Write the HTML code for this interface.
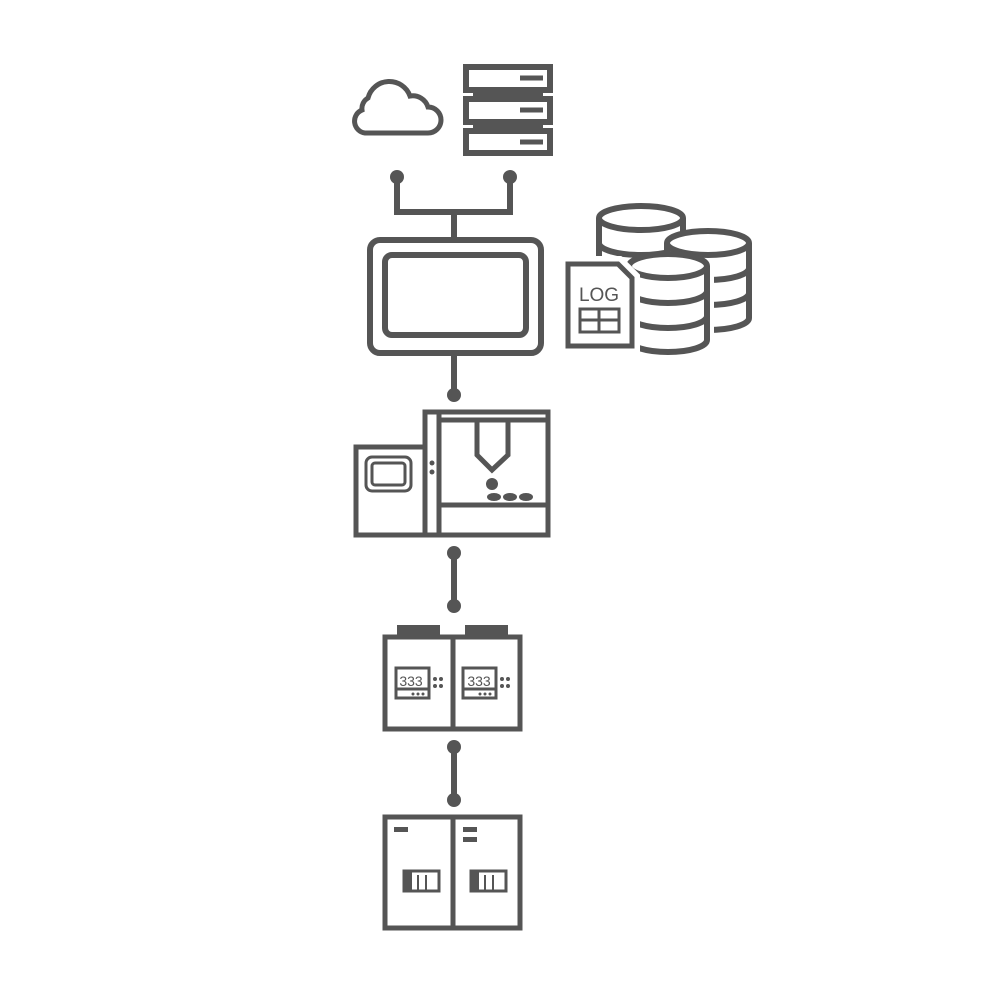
<!DOCTYPE html>
<html><head><style>html,body{margin:0;padding:0;background:#fff}svg{display:block}</style></head>
<body>
<svg width="1000" height="1000" viewBox="0 0 1000 1000" xmlns="http://www.w3.org/2000/svg" fill="none" stroke="#555" stroke-width="6">
<!-- cloud -->
<path d="M365,133 H428 A13,13 0 0 0 428,107 A16,16 0 0 0 410,96 A22,22 0 0 0 368,98 A12,12 0 0 0 362,110 A12,12 0 0 0 365,133 Z" stroke-width="5"/>
<!-- server -->
<rect x="466" y="67" width="84" height="23" stroke-width="6"/>
<rect x="466" y="99" width="84" height="23"/>
<rect x="466" y="131" width="84" height="22"/>
<path d="M473,93 H543 M473,125 H543" stroke-width="6"/>
<path d="M520,78 H543 M520,110 H543 M520,142 H543" stroke-width="5"/>
<!-- connectors top -->
<circle cx="397" cy="177" r="7" fill="#555" stroke="none"/>
<circle cx="510" cy="177" r="7" fill="#555" stroke="none"/>
<path d="M397,177 V212 H510 V177 M454,212 V240"/>
<!-- monitor -->
<rect x="370" y="240" width="171" height="113" rx="10"/>
<rect x="385" y="255" width="141" height="80" rx="7"/>
<path d="M454,353 V395"/>
<circle cx="454" cy="395" r="7" fill="#555" stroke="none"/>
<!-- databases -->
<g fill="#fff" stroke-width="6">
<path d="M599,218 V295 A42,12 0 0 0 683,295 V218"/>
<ellipse cx="641" cy="218" rx="42" ry="12"/>
<path d="M599,243 A42,12 0 0 0 683,243 M599,268 A42,12 0 0 0 683,268" fill="none"/>
<path d="M667,243 V318 A41,12 0 0 0 749,318 V243"/>
<ellipse cx="708" cy="243" rx="41" ry="12"/>
<path d="M667,268 A41,12 0 0 0 749,268 M667,293 A41,12 0 0 0 749,293" fill="none"/>
<path d="M629,266 V340 A39,12 0 0 0 707,340 V266" stroke="#fff" stroke-width="14"/>
<path d="M629,266 V340 A39,12 0 0 0 707,340 V266"/>
<ellipse cx="668" cy="266" rx="39" ry="12"/>
<path d="M629,291 A39,12 0 0 0 707,291 M629,316 A39,12 0 0 0 707,316" fill="none"/>
<path d="M568,264 H618 L632,278 V346 H568 Z" stroke="#fff" stroke-width="16"/>
<path d="M568,264 H618 L632,278 V346 H568 Z" stroke-width="5"/>
</g>
<text x="599" y="301" font-family="Liberation Sans, sans-serif" font-size="19" fill="#555" stroke="none" text-anchor="middle">LOG</text>
<rect x="580" y="309" width="39" height="23" stroke-width="3"/>
<path d="M599,309 V332 M580,320 H619" stroke-width="3"/>
<!-- machine -->
<rect x="425" y="412" width="123" height="123" stroke-width="5"/>
<rect x="356" y="447" width="69" height="88" stroke-width="5"/>
<path d="M439,412 V535 M439,420 H548 M439,505 H548" stroke-width="5"/>
<rect x="366" y="457" width="45" height="34" rx="6" stroke-width="3"/>
<rect x="372" y="463" width="33" height="22" rx="3" stroke-width="3"/>
<circle cx="432" cy="463" r="2.5" fill="#555" stroke="none"/>
<circle cx="432" cy="472" r="2.5" fill="#555" stroke="none"/>
<path d="M477,422 V455 L492,470 L508,455 V422" stroke-width="5"/>
<circle cx="492" cy="484" r="6" fill="#555" stroke="none"/>
<ellipse cx="494" cy="497" rx="7" ry="4" fill="#555" stroke="none"/>
<ellipse cx="510" cy="497" rx="7" ry="4" fill="#555" stroke="none"/>
<ellipse cx="526" cy="497" rx="7" ry="4" fill="#555" stroke="none"/>
<circle cx="454" cy="553" r="7" fill="#555" stroke="none"/>
<circle cx="454" cy="606" r="7" fill="#555" stroke="none"/>
<path d="M454,553 V606"/>
<!-- controller cabinets -->
<rect x="397" y="625" width="43" height="10" fill="#555" stroke="none"/>
<rect x="465" y="625" width="43" height="10" fill="#555" stroke="none"/>
<rect x="385" y="637" width="135" height="92" stroke-width="5"/>
<path d="M453,637 V729" stroke-width="5"/>
<g stroke-width="3">
<rect x="396" y="668" width="33" height="30"/>
<rect x="463" y="668" width="33" height="30"/>
<path d="M396,689 H429 M463,689 H496"/>
</g>
<text x="411" y="686" font-family="Liberation Sans, sans-serif" font-size="14" fill="#555" stroke="none" text-anchor="middle">333</text>
<text x="479" y="686" font-family="Liberation Sans, sans-serif" font-size="14" fill="#555" stroke="none" text-anchor="middle">333</text>
<g fill="#555" stroke="none">
<circle cx="435" cy="679" r="2"/><circle cx="441" cy="679" r="2"/><circle cx="435" cy="686" r="2"/><circle cx="441" cy="686" r="2"/>
<circle cx="502" cy="679" r="2"/><circle cx="508" cy="679" r="2"/><circle cx="502" cy="686" r="2"/><circle cx="508" cy="686" r="2"/>
<circle cx="413" cy="694" r="1.5"/><circle cx="418" cy="694" r="1.5"/><circle cx="423" cy="694" r="1.5"/>
<circle cx="480" cy="694" r="1.5"/><circle cx="485" cy="694" r="1.5"/><circle cx="490" cy="694" r="1.5"/>
</g>
<circle cx="454" cy="747" r="7" fill="#555" stroke="none"/>
<circle cx="454" cy="800" r="7" fill="#555" stroke="none"/>
<path d="M454,747 V800"/>
<!-- power cabinets -->
<rect x="385" y="817" width="135" height="111" stroke-width="5"/>
<path d="M453,817 V928" stroke-width="5"/>
<g fill="#555" stroke="none">
<rect x="394" y="827" width="14" height="5"/>
<rect x="463" y="827" width="14" height="5"/>
<rect x="463" y="837" width="14" height="5"/>
</g>
<g stroke-width="3">
<rect x="404" y="871" width="35" height="20"/>
<rect x="471" y="871" width="35" height="20"/>
</g>
<g fill="#555" stroke="none">
<rect x="404" y="871" width="8" height="20"/><rect x="417" y="875" width="2" height="16"/><rect x="425" y="875" width="2" height="16"/>
<rect x="471" y="871" width="8" height="20"/><rect x="484" y="875" width="2" height="16"/><rect x="492" y="875" width="2" height="16"/>
</g>
</svg>
</body></html>
